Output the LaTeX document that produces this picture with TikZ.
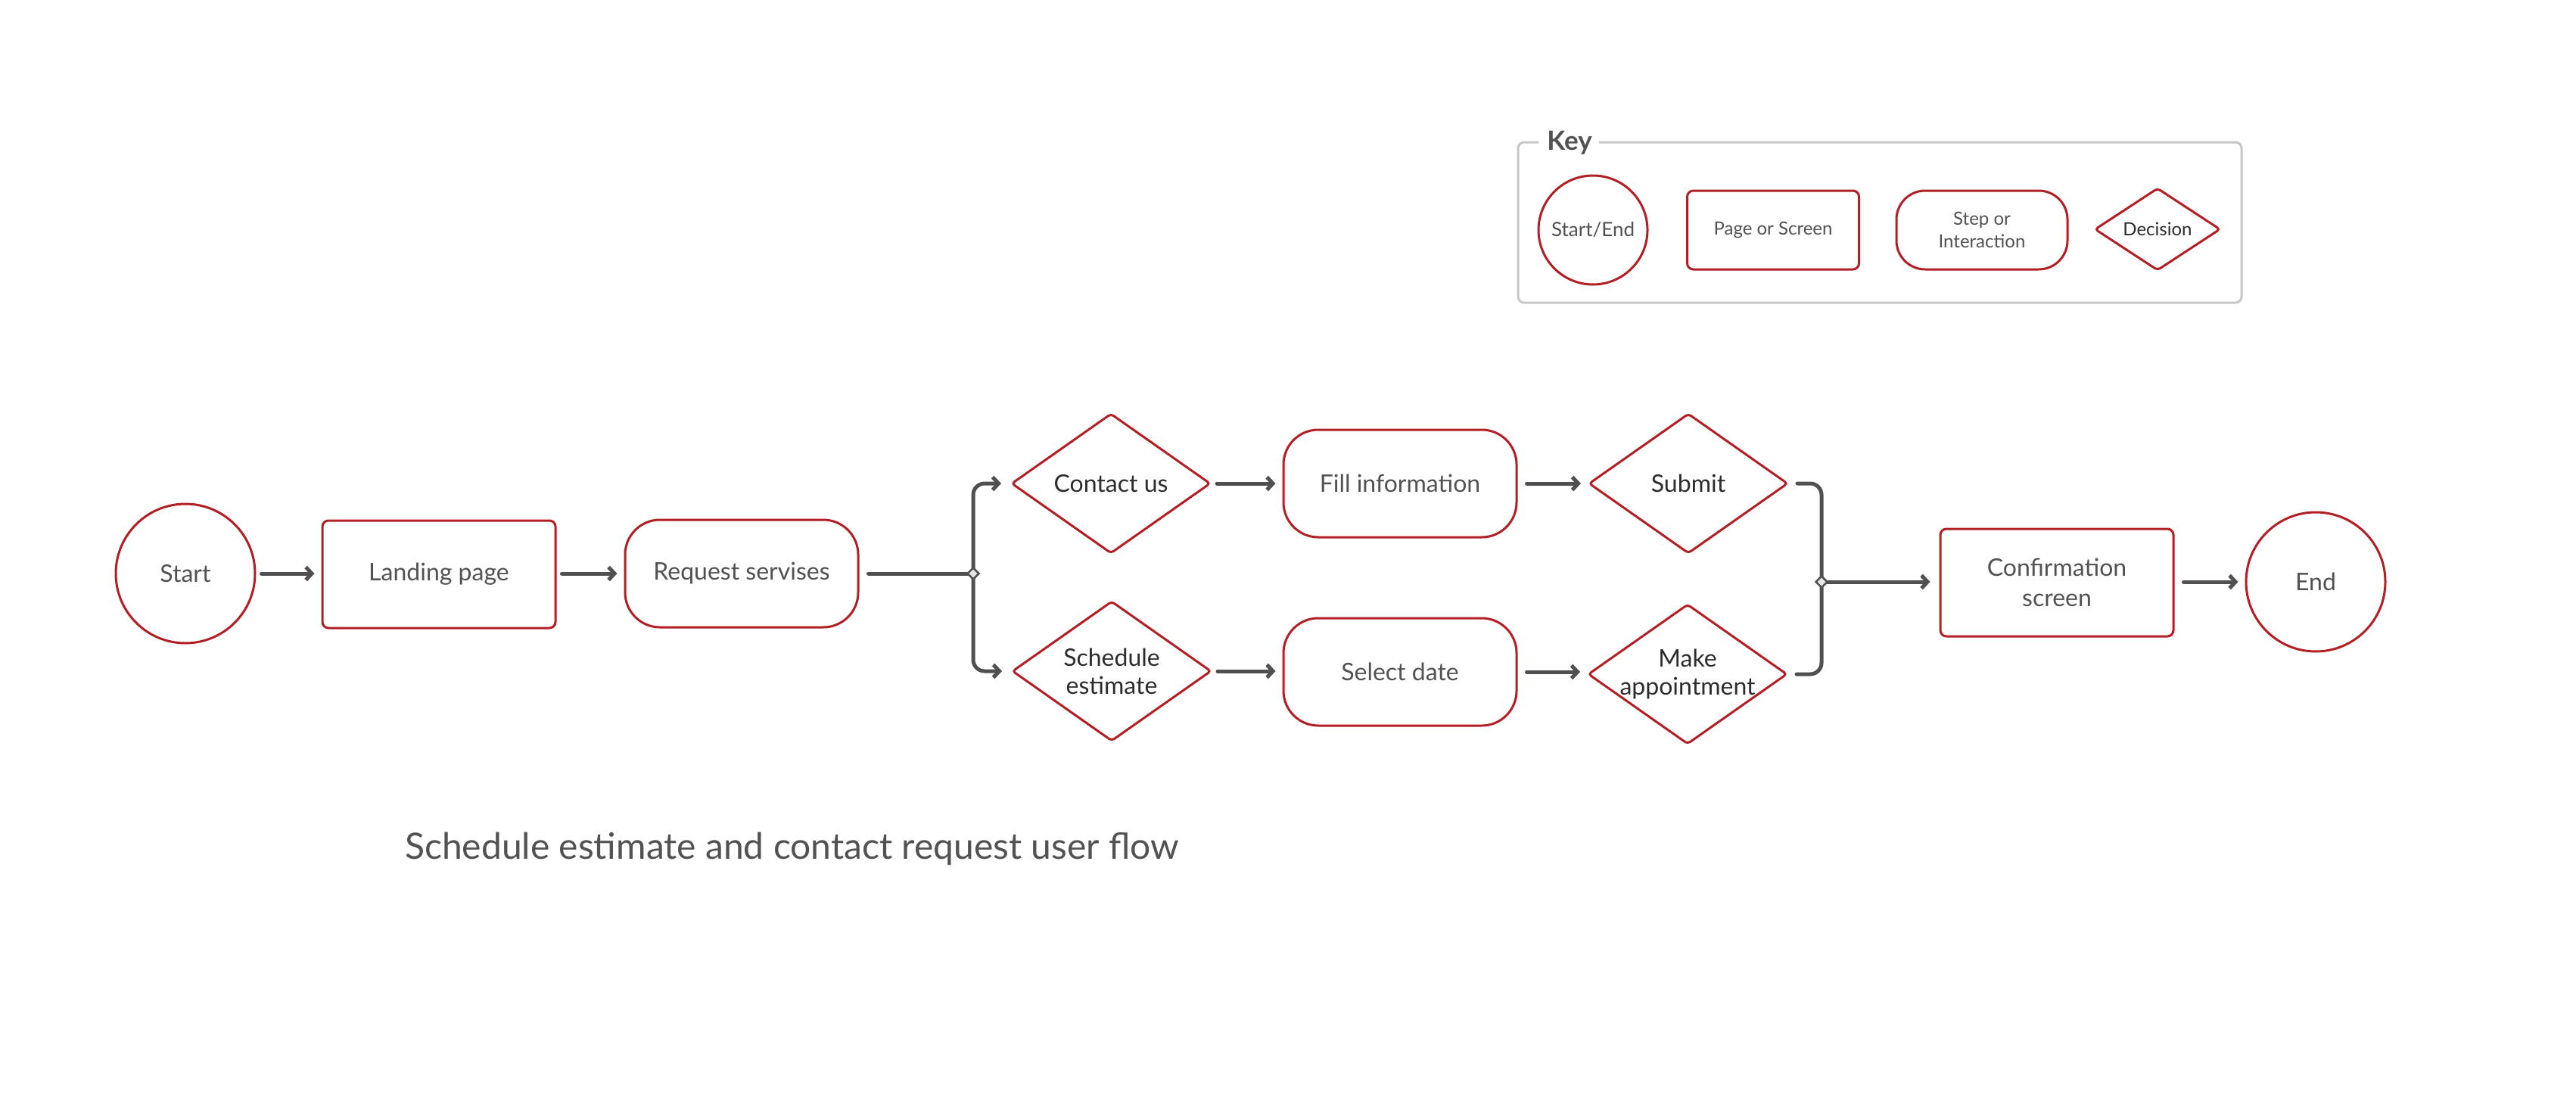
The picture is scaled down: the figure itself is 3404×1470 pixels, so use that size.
\documentclass[tikz,border=0pt]{standalone}
\usepackage{fontspec}
\setmainfont{Lato}
\usetikzlibrary{shapes.geometric,arrows.meta}
\definecolor{fred}{RGB}{178,32,38}
\definecolor{fgrey}{RGB}{80,80,80}
\definecolor{ftext}{RGB}{82,82,82}
\definecolor{fdark}{RGB}{45,45,45}
\definecolor{keyline}{RGB}{200,200,200}
\begin{document}
\begin{tikzpicture}[x=1pt,y=-1pt,
  base/.style={draw=fred, line width=3pt, text=ftext, align=center, inner sep=0pt, font=\fontsize{32}{40}\selectfont},
  startend/.style={base, circle, minimum size=184pt},
  pagebox/.style={base, rectangle, rounded corners=8pt, minimum width=308pt, minimum height=142pt},
  stepbox/.style={base, rectangle, rounded corners=46pt, minimum width=308pt, minimum height=142pt},
  decision/.style={base, diamond, inner sep=-18pt, rounded corners=4pt, minimum width=263pt, minimum height=185pt, text=fdark, font=\fontsize{32}{37}\selectfont},
  keyfont/.style={font=\fontsize{24}{30}\selectfont},
  conn/.style={draw=fgrey, line width=5pt, line cap=round},
  arr/.style={conn, -{Straight Barb[length=8pt,width=17pt]}, shorten <=7pt, shorten >=9pt},
  junction/.style={draw=fgrey, fill=black!10, diamond, line width=2.5pt, minimum width=16pt, minimum height=16pt, inner sep=0pt},
]
\fill[white] (0,0) rectangle (3404,1470);
\useasboundingbox (0,0) rectangle (3404,1470);

% Key
\draw[keyline, line width=3pt, rounded corners=8pt]
  (2033,188) -- (2006,188) -- (2006,400) -- (2962,400) -- (2962,188) -- (2113,188);
\node[anchor=base, text=ftext, font=\fontsize{35}{40}\bfseries] (keytitle) at (2074,198) {Key};
\node[startend, font=\fontsize{26}{30}\selectfont, minimum size=144pt] (kstart) at (2105,304) {Start/End};
\node[pagebox, keyfont, minimum width=227pt, minimum height=104pt] (kpage) at (2343,304) {Page or Screen};
\node[stepbox, keyfont, rounded corners=38pt, minimum width=226pt, minimum height=104pt] (kstep) at (2619,304) {Step or\\Interaction};
\node[decision, keyfont, text=fdark, minimum width=166pt, minimum height=109pt] (kdec) at (2851,303) {Decision};

% Flow nodes
\node[startend] (start) at (245,758) {Start};
\node[pagebox] (landing) at (580,759) {Landing page};
\node[stepbox] (request) at (980,758) {Request servises};
\coordinate (j1) at (1286,758);
\node[decision] (contact) at (1468,639) {Contact us};
\node[decision] (schedule) at (1469,887) {Schedule\\estimate};
\node[stepbox] (fill) at (1850,639) {Fill information};
\node[stepbox] (select) at (1850,888) {Select date};
\node[decision] (submit) at (2231,639) {Submit};
\node[decision] (make) at (2230,891) {Make\\appointment};
\coordinate (j2) at (2407,769);
\node[pagebox] (confirm) at (2718,770) {Confirmation\\screen};
\node[startend] (end) at (3060,769) {End};

% Connectors
\draw[arr] (start) -- (start -| landing.west);
\draw[arr] (landing.east |- request) -- (request);
\draw[conn, shorten <=12pt] (request.east) -- (j1);
\draw[arr, rounded corners=15pt, shorten <=0pt, shorten >=12pt] (j1) |- (contact.west);
\draw[arr, rounded corners=15pt, shorten <=0pt, shorten >=12pt] (j1) |- (schedule.west);
\draw[arr] (contact) -- (fill);
\draw[arr] (schedule.east) -- (select.west |- schedule.east);
\draw[arr, shorten <=12pt] (fill) -- (submit);
\draw[arr, shorten <=12pt] (select.east) -- (make.west |- select.east);
\draw[conn, rounded corners=15pt, shorten <=11pt] (submit.east) -| (j2);
\draw[conn, rounded corners=15pt, shorten <=11pt] (make.east) -| (j2);
\draw[arr, shorten <=0pt, shorten >=12pt] (j2) -- (confirm.west |- j2);
\draw[arr, shorten <=12pt] (confirm.east |- end) -- (end);
\node[junction] (jn1) at (j1) {};
\node[junction] (jn2) at (j2) {};

% Title
\node[anchor=base west, text=ftext, font=\fontsize{48}{54}\selectfont, inner sep=0pt] (title) at (535,1135) {Schedule estimate and contact request user flow};
\end{tikzpicture}
\end{document}
